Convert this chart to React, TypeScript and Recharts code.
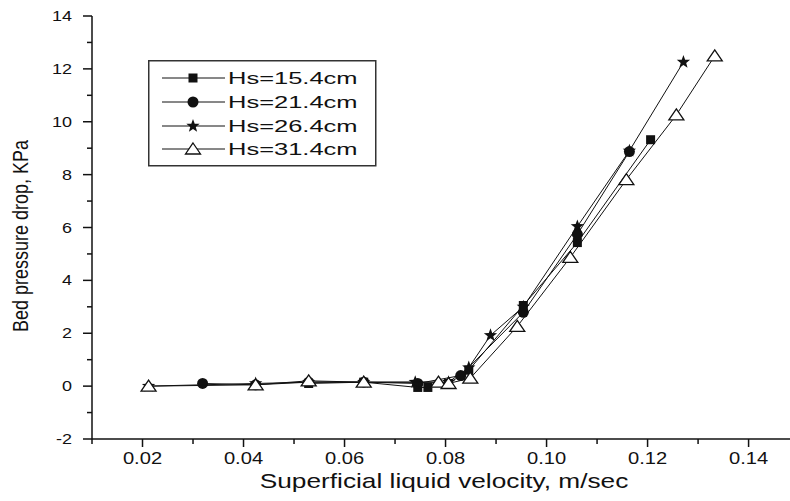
import React from "react";
import {
  ScatterChart,
  Scatter,
  XAxis,
  YAxis,
  Legend,
} from "recharts";

// velocity (m/sec) and bed pressure drop (KPa)
const hs154 = [
  { x: 0.0529, y: 0.1 },
  { x: 0.0638, y: 0.15 },
  { x: 0.0745, y: -0.05 },
  { x: 0.0765, y: -0.05 },
  { x: 0.0806, y: 0.1 },
  { x: 0.0846, y: 0.6 },
  { x: 0.0954, y: 3.05 },
  { x: 0.1061, y: 5.43 },
  { x: 0.1206, y: 9.32 },
];

const hs214 = [
  { x: 0.0319, y: 0.1 },
  { x: 0.0424, y: 0.05 },
  { x: 0.0529, y: 0.15 },
  { x: 0.0638, y: 0.15 },
  { x: 0.0745, y: 0.1 },
  { x: 0.083, y: 0.4 },
  { x: 0.0954, y: 2.79 },
  { x: 0.1061, y: 5.74 },
  { x: 0.1164, y: 8.87 },
];

const hs264 = [
  { x: 0.0212, y: 0 },
  { x: 0.0424, y: 0.1 },
  { x: 0.0529, y: 0.15 },
  { x: 0.0638, y: 0.15 },
  { x: 0.074, y: 0.15 },
  { x: 0.0806, y: 0.15 },
  { x: 0.0846, y: 0.7 },
  { x: 0.0889, y: 1.92 },
  { x: 0.0954, y: 3.0 },
  { x: 0.1061, y: 6.04 },
  { x: 0.1164, y: 8.9 },
  { x: 0.1271, y: 12.26 },
];

const hs314 = [
  { x: 0.0212, y: 0 },
  { x: 0.0424, y: 0.05 },
  { x: 0.0529, y: 0.2 },
  { x: 0.0638, y: 0.15 },
  { x: 0.0786, y: 0.15 },
  { x: 0.0806, y: 0.1 },
  { x: 0.0849, y: 0.3 },
  { x: 0.0942, y: 2.26 },
  { x: 0.1047, y: 4.87 },
  { x: 0.1158, y: 7.81 },
  { x: 0.1257, y: 10.26 },
  { x: 0.1333, y: 12.49 },
];

const seriesNames = ["Hs=15.4cm", "Hs=21.4cm", "Hs=26.4cm", "Hs=31.4cm"];
const markerKinds = ["square", "circle", "star", "triangle"];

const xTicks = [0.01, 0.02, 0.03, 0.04, 0.05, 0.06, 0.07, 0.08, 0.09, 0.1, 0.11, 0.12, 0.13, 0.14];
const xLabelled = [0.02, 0.04, 0.06, 0.08, 0.1, 0.12, 0.14];
const yTicks = [-2, -1, 0, 1, 2, 3, 4, 5, 6, 7, 8, 9, 10, 11, 12, 13, 14];
const yLabelled = [-2, 0, 2, 4, 6, 8, 10, 12, 14];

const FONT = "'Liberation Sans', Arial, sans-serif";
const INK = "#111";

// the figure is stretched sideways, so text gets a horizontal scale
function SText({ x, y, size, sx = 1.25, anchor = "middle", rotate = 0, children }: any) {
  return (
    <text
      transform={`translate(${x},${y}) scale(${sx},1)${rotate ? ` rotate(${rotate})` : ""}`}
      textAnchor={anchor}
      fontSize={size}
      fontFamily={FONT}
      fill={INK}
    >
      {children}
    </text>
  );
}

function Marker({ kind, cx, cy }: any) {
  if (kind === "square") {
    return <rect x={cx - 4.5} y={cy - 4.5} width={9} height={9} fill={INK} />;
  }
  if (kind === "circle") {
    return <circle cx={cx} cy={cy} r={5.5} fill={INK} />;
  }
  if (kind === "star") {
    const pts = [];
    for (let i = 0; i < 10; i++) {
      const r = i % 2 === 0 ? 7 : 2.9;
      const a = -Math.PI / 2 + (i * Math.PI) / 5;
      pts.push(`${cx + r * Math.cos(a)},${cy + r * Math.sin(a)}`);
    }
    return <polygon points={pts.join(" ")} fill={INK} />;
  }
  return (
    <polygon
      points={`${cx},${cy - 6} ${cx + 7.5},${cy + 5} ${cx - 7.5},${cy + 5}`}
      fill="#fff"
      stroke={INK}
      strokeWidth={1.3}
    />
  );
}

function XTick({ x, y, payload }: any) {
  const v = payload.value;
  const major = xLabelled.some((t) => Math.abs(t - v) < 1e-6);
  return (
    <g>
      <line x1={x} y1={y} x2={x} y2={y + (major ? 8 : 5)} stroke={INK} strokeWidth={1.5} />
      {major && (
        <SText x={x} y={y + 25} size={16} sx={1.26}>
          {v.toFixed(2)}
        </SText>
      )}
    </g>
  );
}

function YTick({ x, y, payload }: any) {
  const v = payload.value;
  const major = yLabelled.includes(v);
  return (
    <g>
      <line x1={x - (major ? 9 : 5)} y1={y} x2={x} y2={y} stroke={INK} strokeWidth={1.5} />
      {major && (
        <SText x={72} y={y + 5} size={14.5} sx={1.24} anchor="end">
          {v}
        </SText>
      )}
    </g>
  );
}

function LegendBox() {
  const rows = [18, 42, 66, 89];
  return (
    <svg width={230} height={108} style={{ display: "block" }}>
      <rect x={0.75} y={0.75} width={227} height={105} fill="#fff" stroke="#333" strokeWidth={1.5} />
      {seriesNames.map((name, i) => (
        <g key={name}>
          <line x1={14} y1={rows[i]} x2={77} y2={rows[i]} stroke={INK} strokeWidth={1} />
          <Marker kind={markerKinds[i]} cx={45} cy={rows[i]} />
          <SText x={80} y={rows[i] + 6} size={17} sx={1.5} anchor="start">
            {name}
          </SText>
        </g>
      ))}
    </svg>
  );
}

export default function App() {
  const all = [hs154, hs214, hs264, hs314];
  return (
    <div style={{ position: "absolute", left: 0, top: 0, background: "#fff" }}>
      <ScatterChart
        width={790}
        height={501}
        margin={{ top: 16, right: 0, bottom: 0, left: 0 }}
      >
        <XAxis
          type="number"
          dataKey="x"
          domain={[0.01, 0.1482]}
          ticks={xTicks}
          interval={0}
          height={62}
          tickSize={0}
          tickMargin={0}
          tickLine={false}
          axisLine={{ stroke: INK, strokeWidth: 1.5 }}
          tick={<XTick />}
          allowDataOverflow
          label={(props: any) => (
            <SText x={444} y={488} size={21} sx={1.25}>
              Superficial liquid velocity, m/sec
            </SText>
          )}
        />
        <YAxis
          type="number"
          dataKey="y"
          domain={[-2, 14]}
          ticks={yTicks}
          interval={0}
          width={92}
          tickSize={0}
          tickMargin={0}
          tickLine={false}
          axisLine={{ stroke: INK, strokeWidth: 1.5 }}
          tick={<YTick />}
          allowDataOverflow
          label={(props: any) => (
            <SText x={28} y={236} size={18} sx={1.25} rotate={-90}>
              Bed pressure drop, KPa
            </SText>
          )}
        />
        <Legend
          layout="vertical"
          align="center"
          verticalAlign="middle"
          content={() => <LegendBox />}
          wrapperStyle={{ position: "absolute", left: 148, top: 60, width: 230, height: 108 }}
        />
        {all.map((data, i) => (
          <Scatter
            key={seriesNames[i]}
            name={seriesNames[i]}
            data={data}
            line={{ stroke: INK, strokeWidth: 1 }}
            lineType="joint"
            isAnimationActive={false}
            shape={(p: any) => <Marker kind={markerKinds[i]} cx={p.cx} cy={p.cy} />}
          />
        ))}
      </ScatterChart>
    </div>
  );
}
